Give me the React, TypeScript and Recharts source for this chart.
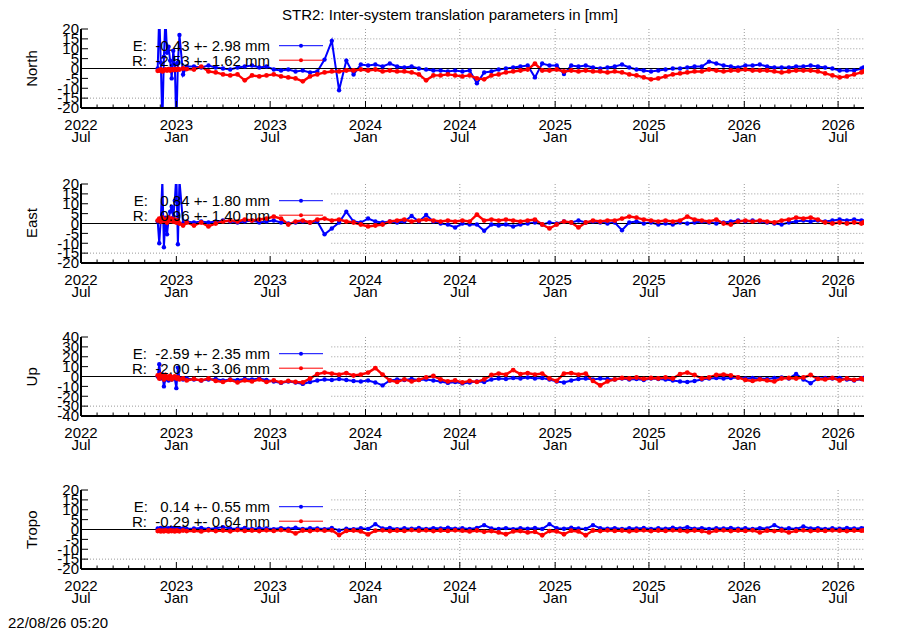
import React from "react";
import {
  LineChart,
  Line,
  XAxis,
  YAxis,
  ReferenceLine,
  Legend,
} from "recharts";

const FONT = "'Liberation Sans', Arial, Helvetica, sans-serif";
const DAY = 86400000;
const T_START = Date.UTC(2022, 10, 26); // first solution
const X0 = Date.UTC(2022, 6, 1);
const X1 = Date.UTC(2026, 7, 20);
const BOX_RIGHT = Date.UTC(2023, 9, 27); // right edge of the opaque key box

// days after 2022-11-26 (denser at the start, where the outliers are)
const dayOffsets = [
  0, 3, 6, 9, 12, 15, 18, 21, 24, 27, 30, 33, 36, 39, 42, 49, 56,
  70, 84, 98, 112, 126, 140, 154, 168, 182, 196,
  210, 224, 238, 252, 266, 280, 294, 308, 322, 336,
  350, 364, 378, 392, 406, 420, 434, 448, 462, 476,
  490, 504, 518, 532, 546, 560, 574, 588, 602, 616,
  630, 644, 658, 672, 686, 700, 714, 728, 742, 756,
  770, 784, 798, 812, 826, 840, 854, 868, 882, 896,
  910, 924, 938, 952, 966, 980, 994, 1008, 1022, 1036,
  1050, 1064, 1078, 1092, 1106, 1120, 1134, 1148, 1162, 1176,
  1190, 1204, 1218, 1232, 1246, 1260, 1274, 1288, 1302, 1316,
  1330, 1344, 1358, 1362,
];

const northE = [
  0, 28, 3, -28, 6, 26, 8, 11, 4, -5, 9, 2, -30, 3, 17, -3, 1,
  1, 0.5, 1.5, 0.5, 0, -0.5, 0.5, 1, 1.5, 0.5,
  1, -0.5, -1, -0.5, -1.5, -1, -2, -1.5, 4.5, 14,
  -11, 4, -3, 2, 1.5, 2, 1, 2.5, 1, 0.5,
  1, 0, -0.5, -1, -1, -1.5, -1, -1.5, -1, -7.5,
  -2, -1.5, -0.5, 0, 0.5, 1, 1.5, -4.5, 2.5, 1.5,
  1.5, -2.8, 1.5, 1, 1.5, 0.5, 0, 0.5, 1, 2,
  0.5, -0.5, -1, -1.5, -1, -0.5, 0, 0, 0.5, 1,
  1, 3.5, 2.5, 1.5, 1, 0.5, 1.5, 1.5, 2, 1,
  0.5, 0.5, 0.5, 1, 1, 1.5, 1, 0.5, 0, -1,
  -1, -1, 0, 0.5,
];
const northR = [
  -1.2, -1, -0.5, -1.5, -1, -0.5, -1, -0.3, -1, -0.5, -0.8, -0.3, -0.7, -0.2, -0.5, 0, -0.3,
  -0.5, 1, -1.5, -2, -3, -3.5, -3, -6, -3.5, -4,
  -3.5, -3, -4, -4.5, -5, -6.5, -4, -3, -2, -1.5,
  -1.5, -1, -1, -0.5, -1, -0.5, -1.5, -1, -1.5, -1.5,
  -2, -3, -6, -3.5, -3.5, -3, -3.5, -4, -3.5, -5,
  -5.5, -3.5, -3, -2, -1.5, -1, -0.5, 2.5, -1, -1,
  -0.5, -1.5, -1, -1.5, -1, -1.5, -1.5, -2, -1.5, -2,
  -3, -3.5, -4.5, -5.5, -5, -4, -3, -2.5, -2, -1.5,
  -1.5, -0.5, -1, -1.5, -1, -1, -0.5, -1, -1, -1,
  -1.5, -2, -1.5, -1, -1, -1, -1.5, -2.5, -3.5, -4.5,
  -4, -3, -2, -1.5,
];

const eastE = [
  1, -10, 2, 22, -12, 3, -5.5, 2, 6, 8.5, 3, 11.5, 25, -10.5, 22, 0, 1,
  0.5, 1, 0.5, 1, 1.5, 1, 0.5, 1, 1.5, 0.5,
  1, 1.5, 0.5, 0, 0.5, 1, 0.5, 1, -5.5, -2.5,
  0.5, 6, 1, 0.5, 2.5, 1, 0.5, 1, 0.5, 1,
  3.8, 1, 4.3, 1, 0, -0.5, -2, 0, -0.5, -0.5,
  -3.7, -0.5, -1, -0.5, -1.5, -0.5, 0, 0.5, -0.5, 0.5,
  0, 1, 0.5, 1.5, 0.5, 1, 0.5, 0, 0.5, -3.4,
  0.5, 1, 0, 0.5, -0.5, 0, -0.5, 0.5, 0, 0.5,
  1, 0.5, 0, 0.5, 1, 1.5, 1, 1.5, 1, 0.5,
  0, -0.5, 0.5, 1, 1.5, 1, 1.5, 1, 1.5, 2,
  1.5, 2, 1.5, 1,
];
const eastR = [
  1.5, 2.5, 1, 3, 1.5, 2, 0.5, 3, 1.5, 2.5, 1, 2, 0.5, 1.5, 0, -1, 0.5,
  -1, 0.5, -1.5, 0, 1, 1.5, 1, 2, 1.5, 2,
  2.5, 3.5, 2.5, -0.5, 1, 1.5, 0.5, 2, 2.5, 1.5,
  2, 1, 0.5, -0.5, -1.5, -1, -0.5, 1, 1.5, 2,
  1, 1.5, 2, 1.5, 1, 1.5, 1, 1.5, 1, 4.5,
  1.5, 2, 1.5, 2, 1.5, 1, 1.5, 2, -0.5, -2.5,
  -0.5, 1, 0.5, -2, 0.5, 1.5, 1, 1.5, 1.5, 2.5,
  3.5, 3, 2, 1.5, 1, 1.5, 1, 1.5, 3.5, 2,
  1.5, 1, 2, 0, -0.5, 1, 1.5, 1, 1.5, 1,
  0.5, 1.5, 2, 3, 2.5, 3, 2, 0.5, 0, 0.5,
  0, 0.5, 0, 0.5,
];

const upE = [
  0, 12.5, -2, 2, -10, -3, -1, -4, -2, -3, -1, -2, -11.8, 9, -2, -3, -2,
  -3, -4, -3, -2.5, -4, -3, -3.5, -2.5, -3, -2,
  -3.5, -5, -6.5, -5, -6, -7.5, -5.5, -4, -3, -3.5,
  -2.5, -3.5, -4.5, -5, -4, -6, -9, -4, -3, -3.5,
  -2.5, -3.5, -3, -4, -5, -6.5, -5.5, -7, -6, -5,
  -5.5, -3, -2, -2.5, -1.5, -2, -1, -2, -1.5, -3,
  -5, -6, -4, -2.5, -2, -3, -2, -2.5, -3, -2,
  -3, -2.5, -3.5, -2, -2.5, -3, -4, -5, -5.5, -4.5,
  -3, -2, -1.5, -2, -1.5, -1, -2, -1.5, -2, -2.5,
  -1.5, -1, -2, 2.5, -3, -6.8, -2, -1.5, -2, -1.5,
  -3, -4, -2.5, -1.5,
];
const upR = [
  1, -2, 2, 0, -3, 1.5, -1, -2, 0.5, -3, -1, 0, -2, -1, -3, -2, -4,
  -2.5, -4, -2, -4.5, -5.5, -3.5, -6, -4, -5, -3,
  -5.5, -4, -6, -4.5, -5.5, -6, -2, 2.5, 4, 3,
  2, 3.5, 1, 2, 4, 8.5, 2, -4, -5.5, -3,
  -5, -3.5, -1, 0.5, -3, -5, -4, -6, -4.5, -5.5,
  -3, 1.5, 3, 2, 6.5, 2.5, 3.5, 2, 3, -2,
  -4.5, 3, 3.5, 2, 3, -4.5, -9, -5, -3, -1.5,
  -2, -1, -2.5, -1.5, -2, -1, -2, 2.5, 4, 1.5,
  -2, -1, 1.5, 2, 1, -1, -3.5, -4.5, -3, -4,
  -5, -2, -1.5, -2, -1, 1.5, -2.5, -3, -1.5, -4,
  -2, -3.5, -2, -3,
];

const tropoE = [
  0.5, 0.3, 0.8, 0.2, 0.5, 0.7, 0.3, 0.6, 0.4, 0.8, 0.5, 0.3, 0.6, 0.4, 0.7, 0.5, 0.3,
  0.5, 0.8, 0.3, 0.6, 1.2, 0.5, 0.4, 0.8, 0.3, 0.6,
  0.5, 0.2, 0.7, 0.4, 0.9, 0.3, 0.6, 0.5, 0.2, 0.8,
  -0.5, 0.4, 0.2, 0.6, 0.3, 2.7, 0.5, 0.8, 0.2, 0.6,
  0.4, 0.8, 0.3, 0.7, 0.5, 0.9, 0.4, 0.6, 0.3, 0.8,
  2.2, 0.5, 0.3, 0.7, 0.2, 0.6, 0.4, 0.8, 0.3, 2.7,
  0.6, 0.4, 0.9, 0.5, 0.3, 2.2, 0.6, 0.4, 0.7, 0.3,
  0.6, 0.5, 0.8, 0.3, 0.6, 0.4, 0.9, 0.5, 1.2, 0.4,
  0.7, 0.3, 0.6, 0.5, 0.8, 0.4, 0.6, 0.3, 0.7, 0.5,
  2.2, 0.4, 0.6, 0.3, 1.5, 0.5, 0.7, 0.3, 0.6, 0.4,
  0.8, 0.5, 0.6, 0.4,
];
const tropoR = [
  -0.8, -0.5, -1, -0.6, -0.9, -0.4, -0.7, -1, -0.5, -0.8, -0.6, -1, -0.4, -0.7, -0.9, -0.5, -0.8,
  -0.6, -1, -0.4, -0.8, -0.5, -0.9, -0.3, -0.7, -0.5, -0.8,
  -0.4, -0.7, -0.3, -0.6, -2, -0.5, -0.8, -0.3, -0.6, -0.4,
  -2.8, -0.7, -0.5, -1, -2.5, -0.6, -0.4, -0.8, -0.5, -0.7,
  -0.3, -0.6, -0.4, -0.8, -0.5, -0.7, -0.4, -0.6, -1, -0.5,
  -1.2, -0.8, -1.5, -2.4, -1, -0.8, -1.5, -1.2, -2.9, -0.8,
  -1, -2.4, -0.6, -1, -2.9, -0.5, -0.8, -0.4, -0.7, -0.5,
  -0.9, -0.6, -0.4, -0.8, -0.5, -0.7, -0.4, -0.6, -0.9, -0.5,
  -0.8, -1.5, -0.6, -0.4, -0.8, -0.5, -0.7, -0.4, -1.5, -0.6,
  -0.8, -0.5, -1.5, -0.7, -0.4, -0.8, -0.5, -0.7, -0.4, -0.6,
  -0.8, -0.5, -0.6, -0.4,
];

const northLegend = ["E:  -0.43 +- 2.98 mm", "R:  -2.53 +- 1.62 mm"];
const eastLegend = ["E:   0.84 +- 1.80 mm", "R:   0.96 +- 1.40 mm"];
const upLegend = ["E:  -2.59 +- 2.35 mm", "R:  -2.00 +- 3.06 mm"];
const tropoLegend = ["E:   0.14 +- 0.55 mm", "R:  -0.29 +- 0.64 mm"];

const ticks20 = [-20, -15, -10, -5, 0, 5, 10, 15, 20];
const ticks40 = [-40, -30, -20, -10, 0, 10, 20, 30, 40];

// dotted vertical grid (the earlier ones sit under the key box)
const gridDates = [
  Date.UTC(2024, 0, 1),
  Date.UTC(2024, 6, 1),
  Date.UTC(2025, 0, 1),
  Date.UTC(2025, 6, 1),
  Date.UTC(2026, 0, 1),
  Date.UTC(2026, 6, 1),
];

const monthTicks: number[] = [];
for (let y = 2022; y <= 2026; y++) {
  for (let m = 0; m < 12; m++) {
    const t = Date.UTC(y, m, 1);
    if (t >= X0 && t <= X1) monthTicks.push(t);
  }
}

const GRID = "#9a9a9a";

const BottomTick = (props: any) => {
  const { x, y, payload } = props;
  const d = new Date(payload.value);
  const m = d.getUTCMonth();
  const major = m === 0 || m === 6;
  return (
    <g>
      <line x1={x} y1={y} x2={x} y2={y - (major ? 7 : 3.5)} stroke="#000" strokeWidth={1} />
      {major && (
        <text x={x} y={y + 22} textAnchor="middle" fontSize={15} fontFamily={FONT} fill="#000">
          <tspan x={x}>{d.getUTCFullYear()}</tspan>
          <tspan x={x} dy={12}>{m === 0 ? "Jan" : "Jul"}</tspan>
        </text>
      )}
    </g>
  );
};

const TopTick = (props: any) => {
  const { x, y, payload } = props;
  const m = new Date(payload.value).getUTCMonth();
  const major = m === 0 || m === 6;
  return <line x1={x} y1={y} x2={x} y2={y + (major ? 7 : 3.5)} stroke="#000" strokeWidth={1} />;
};

const LeftTick = (props: any) => {
  const { x, y, payload } = props;
  return (
    <g>
      <line x1={x} y1={y} x2={x + 7} y2={y} stroke="#000" strokeWidth={1} />
      <text x={x - 2} y={y + 5.3} textAnchor="end" fontSize={15} fontFamily={FONT} fill="#000">
        {payload.value}
      </text>
    </g>
  );
};

const RightTick = (props: any) => {
  const { x, y } = props;
  return <line x1={x} y1={y} x2={x - 7} y2={y} stroke="#000" strokeWidth={1} />;
};

const KeyBox = (props: any) => {
  const items = props.payload || [];
  return (
    <svg width={340} height={45} style={{ display: "block", overflow: "visible" }}>
      {items.map((it: any, i: number) => {
        const base = 22 + 14.5 * i;
        const mid = base - 5.3;
        return (
          <g key={i}>
            <text
              x={270}
              y={base}
              textAnchor="end"
              fontSize={15}
              fontFamily={FONT}
              fill="#000"
              xmlSpace="preserve"
              style={{ whiteSpace: "pre" }}
            >
              {it.value}
            </text>
            <line x1={279} y1={mid} x2={323} y2={mid} stroke={it.color} strokeWidth={1} />
            <circle cx={301} cy={mid} r={2} fill={it.color} />
          </g>
        );
      })}
    </svg>
  );
};

interface PanelProps {
  top: number;
  e: number[];
  r: number[];
  legend: string[];
  yTicks: number[];
  boxBottom: number;
}

const PLOT_H = 79;
const PAD_TOP = 12;

const Panel = ({ top, e, r, legend, yTicks, boxBottom }: PanelProps) => {
  const data = dayOffsets.map((d, i) => ({ t: T_START + d * DAY, e: e[i], r: r[i] }));
  const yMin = yTicks[0];
  const yMax = yTicks[yTicks.length - 1];
  const inner = yTicks.filter((v) => v !== 0 && v !== yMin && v !== yMax);
  return (
    <div style={{ position: "absolute", left: 0, top: top - PAD_TOP }}>
      <LineChart
        width={900}
        height={PLOT_H + PAD_TOP + 45}
        data={data}
        margin={{ top: PAD_TOP, right: 36, bottom: 0, left: 0 }}
      >
        {/* horizontal grid, hidden behind the key box on the left */}
        {inner.map((v) => (
          <ReferenceLine
            key={"h" + v}
            xAxisId="b"
            yAxisId="l"
            segment={[
              { x: v > boxBottom ? BOX_RIGHT : X0, y: v },
              { x: X1, y: v },
            ]}
            stroke={GRID}
            strokeDasharray="1 2"
          />
        ))}
        {gridDates.map((g) => (
          <ReferenceLine key={g} xAxisId="b" yAxisId="l" x={g} stroke={GRID} strokeDasharray="1 2" />
        ))}
        <XAxis
          xAxisId="b"
          dataKey="t"
          type="number"
          domain={[X0, X1]}
          allowDataOverflow
          ticks={monthTicks}
          interval={0}
          tick={<BottomTick />}
          tickLine={false}
          tickSize={0}
          tickMargin={0}
          axisLine={{ stroke: "#000", strokeWidth: 2 }}
          height={45}
        />
        <XAxis
          xAxisId="t"
          orientation="top"
          type="number"
          domain={[X0, X1]}
          allowDataOverflow
          ticks={monthTicks}
          interval={0}
          tick={<TopTick />}
          tickLine={false}
          tickSize={0}
          tickMargin={0}
          axisLine={{ stroke: "#000", strokeWidth: 2 }}
          height={0}
        />
        <YAxis
          yAxisId="l"
          type="number"
          domain={[yMin, yMax]}
          allowDataOverflow
          ticks={yTicks}
          interval={0}
          tick={<LeftTick />}
          tickLine={false}
          tickSize={0}
          tickMargin={0}
          axisLine={{ stroke: "#000", strokeWidth: 2 }}
          width={81}
        />
        <YAxis
          yAxisId="r"
          orientation="right"
          type="number"
          domain={[yMin, yMax]}
          allowDataOverflow
          ticks={yTicks}
          interval={0}
          tick={<RightTick />}
          tickLine={false}
          tickSize={0}
          tickMargin={0}
          axisLine={{ stroke: "#000", strokeWidth: 2 }}
          width={0}
        />
        <Line
          xAxisId="b"
          yAxisId="l"
          dataKey="e"
          name={legend[0]}
          stroke="#0000ff"
          strokeWidth={2}
          dot={{ r: 2.2, fill: "#0000ff", stroke: "none" }}
          isAnimationActive={false}
        />
        <Line
          xAxisId="b"
          yAxisId="l"
          dataKey="r"
          name={legend[1]}
          stroke="#ff0000"
          strokeWidth={2.4}
          dot={{ r: 2.4, fill: "#ff0000", stroke: "none" }}
          isAnimationActive={false}
        />
        <ReferenceLine xAxisId="b" yAxisId="l" y={0} stroke="#000" strokeWidth={1.2} />
        <Legend
          layout="horizontal"
          verticalAlign="middle"
          align="center"
          wrapperStyle={{ left: 0, top: PAD_TOP, width: 340, height: 45, pointerEvents: "none" }}
          content={(p: any) => <KeyBox payload={p.payload} />}
        />
      </LineChart>
    </div>
  );
};

const panels = [
  { name: "North", top: 29, e: northE, r: northR, legend: northLegend, yTicks: ticks20, boxBottom: -12.5 },
  { name: "East", top: 183.5, e: eastE, r: eastR, legend: eastLegend, yTicks: ticks20, boxBottom: -12.5 },
  { name: "Up", top: 337.3, e: upE, r: upR, legend: upLegend, yTicks: ticks40, boxBottom: -25 },
  { name: "Tropo", top: 490.3, e: tropoE, r: tropoR, legend: tropoLegend, yTicks: ticks20, boxBottom: -12.5 },
];

export default function App() {
  return (
    <div
      style={{
        position: "absolute",
        left: 0,
        top: 0,
        width: 900,
        height: 630,
        background: "#fff",
        overflow: "hidden",
      }}
    >
      <svg width={900} height={630} style={{ position: "absolute", left: 0, top: 0 }}>
        <text x={450} y={20} textAnchor="middle" fontSize={15} fontFamily={FONT} fill="#000">
          STR2: Inter-system translation parameters in [mm]
        </text>
        {panels.map((p) => (
          <text
            key={p.name}
            transform={`translate(31.5, ${p.top + PLOT_H / 2}) rotate(-90)`}
            textAnchor="middle"
            dominantBaseline="central"
            fontSize={15}
            fontFamily={FONT}
            fill="#000"
          >
            {p.name}
          </text>
        ))}
        <text x={8} y={628} fontSize={15} fontFamily={FONT} fill="#000">
          22/08/26 05:20
        </text>
      </svg>
      {panels.map((p) => (
        <Panel
          key={p.name}
          top={p.top}
          e={p.e}
          r={p.r}
          legend={p.legend}
          yTicks={p.yTicks}
          boxBottom={p.boxBottom}
        />
      ))}
    </div>
  );
}
